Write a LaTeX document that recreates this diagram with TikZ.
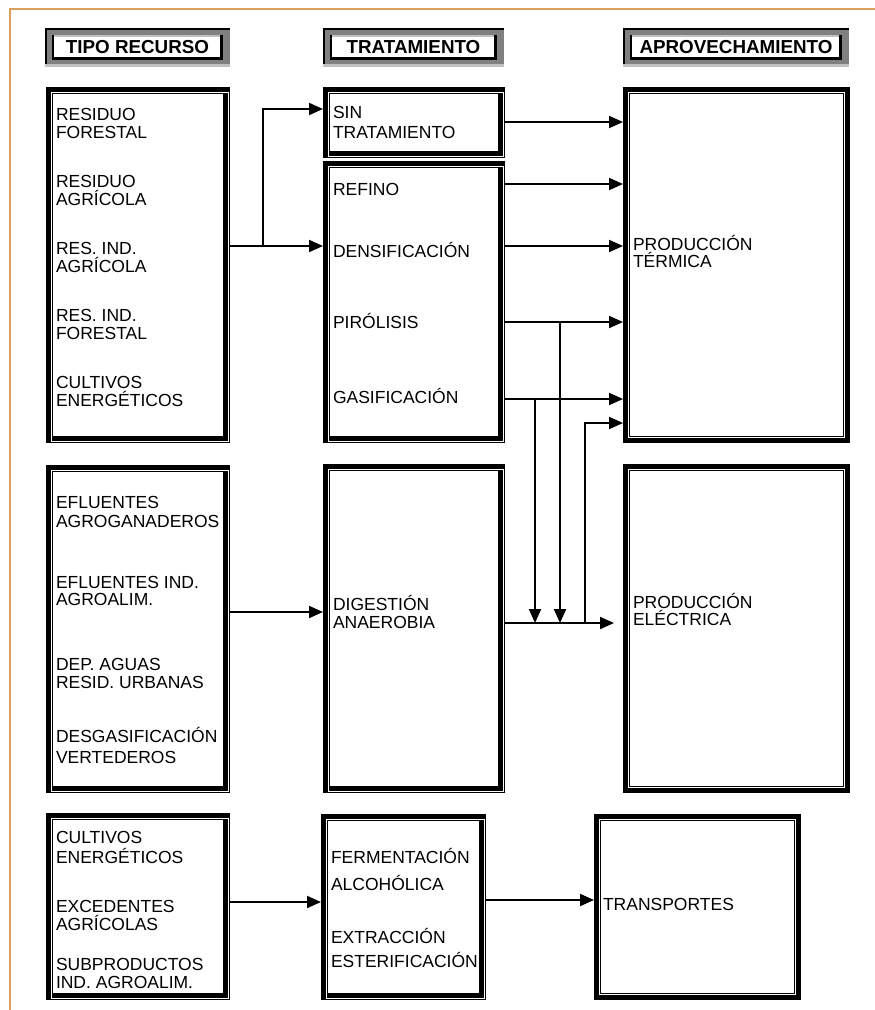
\documentclass[tikz,border=0pt]{standalone}
\usepackage{fontspec}
\setmainfont{Liberation Sans}
\usetikzlibrary{arrows.meta}
\definecolor{frameorange}{HTML}{D9A35E}
\definecolor{hgray}{HTML}{808080}
\definecolor{hlight}{HTML}{C0C0C0}
\tikzset{
 every node/.style={inner sep=0pt, outer sep=0pt},
 fb/.style={draw=black, line width=7pt, rectangle, outer sep=3.5pt, inner sep=0pt, fill=white},
 whiteline/.style={draw=white, line width=0.9pt},
 arr/.style={line width=2pt, -{Triangle[length=14pt,width=12pt]}},
 txt/.style={anchor=base west, font=\fontsize{17.5}{20}\selectfont},
 htxt/.style={font=\bfseries\fontsize{18.8}{20}\selectfont},
 frameline/.style={draw=frameorange, line width=1.5pt},
}
\newcommand{\mybox}[6]{%
 \pgfmathsetmacro{\mybw}{#4-#2-7}\pgfmathsetmacro{\mybh}{#5-#3-7}%
 \node[fb, minimum width=\mybw pt, minimum height=\mybh pt, anchor=north west] (#1) at (#2,#3) {};
 \ifnum#6=0
 \draw[whiteline] ([shift={(5.5,5.5)}]#1.north west) rectangle ([shift={(-1.5,-1.5)}]#1.south east);
 \else
 \draw[whiteline] ([shift={(5.5,5.5)}]#1.north west) rectangle ([shift={(-5.5,-5.5)}]#1.south east);
 \fi
}
\newcommand{\myhdr}[4]{%
 \fill[hgray] (#2,28) rectangle (#3,64);
 \fill[hlight] (#2,64) rectangle (#3,67);
 \fill[black] (#2,28) rectangle (#3,30);
 \fill[black] (#2,28) rectangle ({#2+2},64);
 \fill[white] ({#2+7},35) rectangle ({#3-7},60);
 \fill[hlight] ({#2+9},35) rectangle ({#3-10},37);
 \fill[black] ({#2+7},35) rectangle ({#2+9},60);
 \fill[black] ({#2+7},57) rectangle ({#3-7},60);
 \fill[black] ({#3-10},35) rectangle ({#3-7},60);
 \node[htxt] (#1) at ({(#2+#3)/2},47) {#4};
}
\begin{document}
\begin{tikzpicture}[x=1pt,y=-1pt]
\useasboundingbox (0,0) rectangle (875,1010);
\fill[white] (0,0) rectangle (875,1010);
\draw[frameline] (10,1010) -- (10,9) -- (875,9);

% headers
\myhdr{h1}{45}{230}{TIPO RECURSO}
\myhdr{h2}{323}{504}{TRATAMIENTO}
\myhdr{h3}{623}{849}{APROVECHAMIENTO}

% boxes
\mybox{b1}{46}{87}{230}{443}{0}
\mybox{b2}{46}{465}{230}{793}{0}
\mybox{b3}{46}{813}{230}{1000}{0}
\mybox{sin}{323}{87}{505}{158}{0}
\mybox{rest}{323}{161}{505}{443}{0}
\mybox{dig}{323}{464}{505}{793}{0}
\mybox{ferm}{321}{814}{486}{1000}{0}
\mybox{term}{623}{87}{850}{443}{1}
\mybox{elec}{623}{464}{850}{793}{1}
\mybox{trans}{594}{814}{801}{1000}{1}

% column 1 texts
\node[txt] (a1) at (56,120) {RESIDUO};
\node[txt] (a2) at (56,138) {FORESTAL};
\node[txt] (a3) at (56,187) {RESIDUO};
\node[txt] (a4) at (56,205) {AGRÍCOLA};
\node[txt] (a5) at (56,254) {RES. IND.};
\node[txt] (a6) at (56,272) {AGRÍCOLA};
\node[txt] (a7) at (56,321) {RES. IND.};
\node[txt] (a8) at (56,339) {FORESTAL};
\node[txt] (a9) at (56,388) {CULTIVOS};
\node[txt] (a10) at (56,406) {ENERGÉTICOS};

\node[txt] (c1) at (56,508) {EFLUENTES};
\node[txt] (c2) at (56,527) {AGROGANADEROS};
\node[txt] (c3) at (56,588) {EFLUENTES IND.};
\node[txt] (c4) at (56,605) {AGROALIM.};
\node[txt] (c5) at (56,670) {DEP. AGUAS};
\node[txt] (c6) at (56,688) {RESID. URBANAS};
\node[txt] (c7) at (56,742) {DESGASIFICACIÓN};
\node[txt] (c8) at (56,763) {VERTEDEROS};

\node[txt] (e1) at (56,843) {CULTIVOS};
\node[txt] (e2) at (56,863) {ENERGÉTICOS};
\node[txt] (e3) at (56,912) {EXCEDENTES};
\node[txt] (e4) at (56,930) {AGRÍCOLAS};
\node[txt] (e5) at (56,970) {SUBPRODUCTOS};
\node[txt] (e6) at (56,988) {IND. AGROALIM.};

% column 2 texts
\node[txt] (s1) at (333,118) {SIN};
\node[txt] (s2) at (333,138) {TRATAMIENTO};
\node[txt] (r1) at (333,195) {REFINO};
\node[txt] (r2) at (333,257) {DENSIFICACIÓN};
\node[txt] (r3) at (333,328) {PIRÓLISIS};
\node[txt] (r4) at (333,403) {GASIFICACIÓN};
\node[txt] (d1) at (333,610) {DIGESTIÓN};
\node[txt] (d2) at (333,628) {ANAEROBIA};
\node[txt] (f1) at (331,863) {FERMENTACIÓN};
\node[txt] (f2) at (331,890) {ALCOHÓLICA};
\node[txt] (f3) at (331,943) {EXTRACCIÓN};
\node[txt] (f4) at (331,967) {ESTERIFICACIÓN};

% column 3 texts
\node[txt] (p1) at (633,250) {PRODUCCIÓN};
\node[txt] (p2) at (633,267) {TÉRMICA};
\node[txt] (q1) at (633,608) {PRODUCCIÓN};
\node[txt] (q2) at (633,625) {ELÉCTRICA};
\node[txt] (tr) at (603,910) {TRANSPORTES};

% connectors
\coordinate (j1) at (263,246);
\draw[arr] (b1.east |- j1) -- (j1) |- (sin.west |- 0,109);
\draw[arr] (j1) -- (rest.west |- j1);
\draw[arr] (sin.east |- 0,122) -- (term.west |- 0,122);
\foreach \yy in {184,246,322,399} {
 \draw[arr] (rest.east |- 0,\yy) -- (term.west |- 0,\yy);
}
\coordinate (dj) at (dig.east |- 0,623);
\draw[arr, shorten >=9pt] (dj) -- (elec.west |- dj);
\coordinate (pv) at (560,322);
\draw[arr] (pv) -- (pv |- dj);
\coordinate (gv) at (535,399);
\draw[arr] (gv) -- (gv |- dj);
\coordinate (rv) at (585,623);
\draw[arr] (rv) |- (term.west |- 0,423);
\draw[arr] (b2.east |- 0,612) -- (dig.west |- 0,612);
\draw[arr] (b3.east |- 0,902) -- (ferm.west |- 0,902);
\draw[arr] (ferm.east |- 0,900) -- (trans.west |- 0,900);
\end{tikzpicture}
\end{document}
